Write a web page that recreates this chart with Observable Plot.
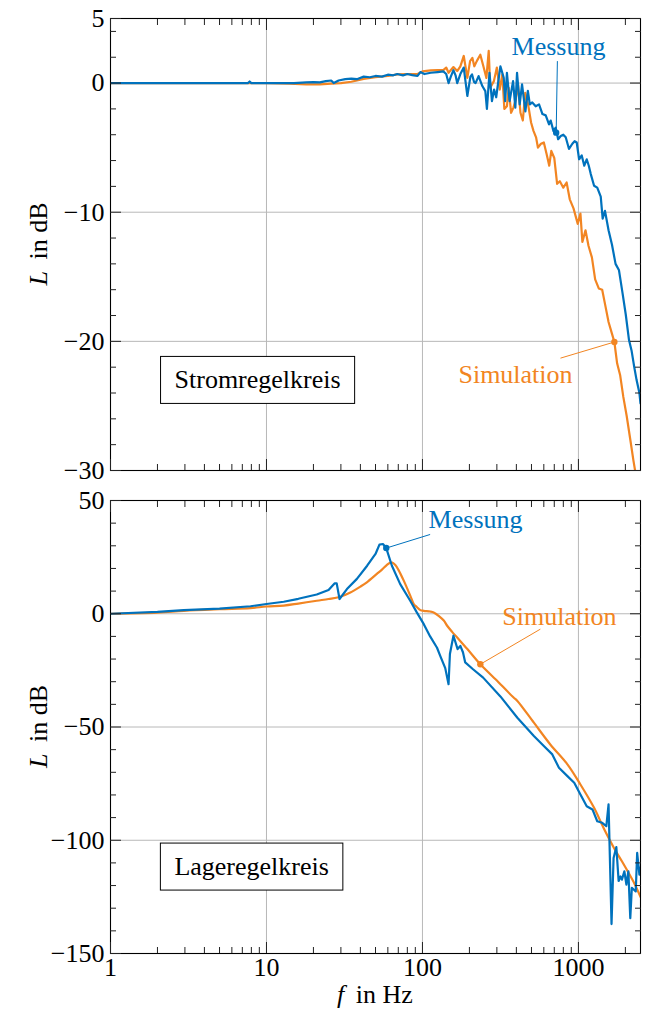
<!DOCTYPE html>
<html><head><meta charset="utf-8">
<script src="https://cdn.jsdelivr.net/npm/d3@7"></script>
<script src="https://cdn.jsdelivr.net/npm/@observablehq/plot@0.6"></script>
<style>
body{margin:0;background:#fff;}
#chart{width:649px;}
#chart svg{display:block;}
</style></head><body><div id="chart"></div>
<script>
const BLUE = "#0072bd", ORANGE = "#f28522";
const FONT = "Liberation Serif, Times New Roman, serif";

// ---------- Stromregelkreis (top) ----------
const topMessF = [1,5,7.6,7.8,8,15,18,20,22,24,26,27,29,32,35,38,42,46,50,55,60,65,69,75,80,86,93,97,103,113,125,136,142,147,152,158,163,167,175,184,194,203,208,214,219,229,242,253,259,269,279,288,297,307,316,332,339,348,362,381,394,404,420,435,457,474,488,506,532,559,588,617,648,664,691,715,741,770,800,829,870,914,945,975,1010,1050,1090,1130,1165,1200,1260,1320,1390,1430,1480,1560,1640,1730,1820,1920,2010,2110,2190,2280,2360,2460,2500];
const topMessL = [0,0,0,0.12,0,0,0.05,0.08,0.05,0.15,0.2,0,0.2,0.3,0.35,0.3,0.5,0.45,0.55,0.5,0.65,0.6,0.7,0.6,0.7,0.62,0.55,0.85,0.7,0.8,0.85,0.9,0.7,0,0.5,1.0,0.6,0,0.7,1.2,-1.0,0.5,0.67,0.1,0,0.54,-0.23,-0.62,-2.0,0.8,-1.4,-0.5,-1.1,0.2,1.3,0.4,-1.4,0.8,-1.4,0.15,-1.9,0.8,-1.65,-0.1,-2.2,-0.6,-1.65,-1.5,-1.8,-1.65,-2.4,-2.5,-3.2,-2.9,-3.7,-3.45,-4.35,-4.1,-4.0,-4.2,-5.1,-4.7,-4.5,-4.6,-5.9,-5.6,-6.4,-5.9,-6.4,-7.05,-7.95,-8.1,-8.8,-10.5,-9.9,-11.4,-12.5,-14,-14.5,-16.3,-17.9,-19.9,-20.7,-22,-23,-24,-24.8];
const topSimF = [1,10,14,18,22,26,30,35,42,50,60,69,80,93,100,113,125,136,142,147,158,167,175,184,194,202,209,215,223,235,247,257,266,272,287,300,313,325,335,348,357,370,383,397,410,425,440,456,478,497,515,535,550,575,600,625,650,670,700,730,760,800,840,880,930,990,1030,1060,1110,1160,1220,1280,1350,1420,1480,1560,1640,1700,1770,1850,1940,2040,2150,2250,2330,2400];
const topSimL = [0,0,-0.05,-0.1,-0.1,-0.05,0,0.1,0.33,0.45,0.55,0.67,0.7,0.7,0.9,0.98,1.0,1.0,1.2,0.8,1.24,0.93,1.3,2.1,0.4,1.7,1.95,1.3,1.7,2.2,1.2,0.4,2.5,-0.36,0.15,1.2,-0.5,0.67,-2.0,-1.8,-0.36,-2.3,-1.9,-1.26,-0.1,-2.3,-2.9,-0.75,-1.8,-3.05,-3.7,-4.2,-5.0,-4.7,-4.6,-5.5,-6.4,-5.25,-5.8,-7.8,-7.6,-8.1,-7.7,-9.0,-9.7,-10.9,-10.1,-12.3,-11.4,-12.6,-13.5,-15.2,-15.9,-16,-17.1,-18.5,-19.4,-20.05,-21.7,-22.6,-24.3,-25.8,-27.6,-29.2,-30.3,-31.5];

// ---------- Lageregelkreis (bottom) ----------
const botMessF = [1,2,2.95,5,7.9,10,12.9,16,21,25,27.3,28.2,29.4,32.8,38,44.2,50,53,55.8,58.6,63.7,72,83.5,92,102,112,124,130,140,147,150,158,168,175,182,188,211,245,316,406,518,600,680,750,850,940,1030,1130,1230,1320,1420,1510,1560,1630,1680,1750,1810,1860,1900,1970,2030,2090,2150,2200,2330,2380,2460,2500];
const botMessL = [0,0.8,1.6,2.3,3.3,4.3,5.3,6.6,8.5,10.5,13.4,13.4,6.5,10.9,15.4,21.2,26.4,30.5,30.8,29,21.2,13.1,5.75,0.6,-4.6,-10,-15,-18.6,-24,-31.1,-17.8,-9.7,-15.6,-14.2,-17.1,-21.5,-24.5,-28.2,-36.5,-45.9,-54,-58.4,-62.1,-68,-71.7,-74.6,-79.8,-85,-86.4,-91.6,-92.3,-93.8,-84.2,-137,-107.8,-103,-118,-116,-117.4,-113.7,-119.6,-113.7,-134.4,-121,-122.6,-105.6,-115.2,-112];
const botSimF = [1,2,2.95,5,7.9,10,12.9,16,21,25,29.4,34.5,40,44,51,55,59,62,64,67,70,76,83.5,88,92,97,102,112,118,127,137,144,155,167,194,235,301,316,384,406,518,660,850,1030,1260,1450,1690,1900,2100,2300,2500];
const botSimL = [0,0.5,1.3,2.0,2.5,3.2,3.6,4.5,5.75,6.5,7.4,9.4,12,13.9,17.6,19.5,21.5,22.5,22.6,21.5,19.5,14.5,8,4.3,3,1.6,1.3,1.0,0.6,-0.9,-3,-5.3,-8,-10.5,-15.6,-22.3,-29.6,-31.1,-37,-38.5,-48.1,-57.7,-66.5,-75.4,-85.7,-94.6,-103.4,-109.3,-114.5,-119.5,-125];

// ---------- ticks ----------
const xMajor = [1,10,100,1000];
const xMinor = [2,3,4,5,6,7,8,9,20,30,40,50,60,70,80,90,200,300,400,500,600,700,800,900,2000];
const topYLabels = [5,0,-10,-20,-30];
const topYGrid = [0,-10,-20];
const topYMinor = [4,2,-2,-4,-6,-8,-12,-14,-16,-18,-22,-24,-26,-28];
const botYLabels = [50,0,-50,-100,-150];
const botYGrid = [0,-50,-100];
const botYMinor = [40,30,20,10,-10,-20,-30,-40,-60,-70,-80,-90,-110,-120,-130,-140];

// ---------- annotations ----------
const topAnnot = [
  {label: "Messung", color: BLUE, tf: 745, tl: 2.8, lf: 733, ll: 1.7, pf: 720, pl: -3.84},
  {label: "Simulation", color: ORANGE, tf: 395, tl: -22.55, lf: 767, ll: -21.3, pf: 1700, pl: -20.05}
];
const botAnnot = [
  {label: "Messung", color: BLUE, tf: 219, tl: 41.6, lf: 112, ll: 35, pf: 58.6, pl: 29},
  {label: "Simulation", color: ORANGE, tf: 755, tl: -1.3, lf: 570, ll: -6.8, pf: 235, pl: -22.3}
];
const topBox = [{label: "Stromregelkreis", f: 8.77, l: -23.0}];
const botBox = [{label: "Lageregelkreis", f: 8.03, l: -111.7}];

const minus = d => d < 0 ? "\u2212" + Math.abs(d) : String(d);
const toRows = (F, L) => F.map((f, i) => ({f, l: L[i]}));

function panel({height, marginTop, marginBottom, yDomain, yLabels, yGrid, yMinor, mess, sim, annot, box, xLabels, smoothSim}) {
  const tickStroke = "#222";
  const lineMess = Plot.line(mess, {x: "f", y: "l", stroke: BLUE, strokeWidth: 2.2, clip: true, strokeLinejoin: "round"});
  const lineSim = Plot.line(sim, {x: "f", y: "l", stroke: ORANGE, strokeWidth: 2.2, clip: true, strokeLinejoin: "round", curve: smoothSim ? "catmull-rom" : "linear"});
  const marks = [
    Plot.gridX({ticks: xMajor, stroke: "#b8b8b8", strokeOpacity: 1, strokeWidth: 1}),
    Plot.gridY({ticks: yGrid, stroke: "#b8b8b8", strokeOpacity: 1, strokeWidth: 1}),
    lineSim, lineMess,
    Plot.link(annot, {x1: "pf", y1: "pl", x2: "lf", y2: "ll", stroke: "color", strokeWidth: 1}),
    Plot.dot(annot, {x: "pf", y: "pl", fill: "color", r: 3.2}),
    Plot.text(annot, {x: "tf", y: "tl", text: "label", fill: "color", fontSize: 26, fontFamily: FONT}),
    Plot.text(box, {x: "f", y: "l", text: "label", fill: "#000", fontSize: 26, fontFamily: FONT}),
    Plot.frame({stroke: "#000", strokeWidth: 1.1}),
    Plot.axisX({ticks: xMajor, anchor: "bottom", tickSize: -11, tickFormat: () => "", label: null, stroke: tickStroke}),
    Plot.axisX({ticks: xMinor, anchor: "bottom", tickSize: -6, tickFormat: () => "", label: null, stroke: tickStroke}),
    Plot.axisX({ticks: xMajor, anchor: "top", tickSize: -11, tickFormat: () => "", label: null, stroke: tickStroke}),
    Plot.axisX({ticks: xMinor, anchor: "top", tickSize: -6, tickFormat: () => "", label: null, stroke: tickStroke}),
    Plot.axisY({ticks: yLabels, anchor: "left", tickSize: -11, tickFormat: () => "", label: null, stroke: tickStroke}),
    Plot.axisY({ticks: yMinor, anchor: "left", tickSize: -6, tickFormat: () => "", label: null, stroke: tickStroke}),
    Plot.axisY({ticks: yLabels, anchor: "right", tickSize: -11, tickFormat: () => "", label: null, stroke: tickStroke}),
    Plot.axisY({ticks: yMinor, anchor: "right", tickSize: -6, tickFormat: () => "", label: null, stroke: tickStroke}),
    Plot.axisY({ticks: yLabels, anchor: "left", tickSize: 0, tickPadding: 6, tickFormat: minus, label: null, fontSize: 26, fontFamily: FONT})
  ];
  if (xLabels) {
    marks.push(Plot.axisX({ticks: xMajor, anchor: "bottom", tickSize: 0, tickPadding: 4, tickFormat: d => String(d), label: null, fontSize: 26, fontFamily: FONT}));
  }
  return Plot.plot({
    width: 649, height, marginTop, marginBottom, marginLeft: 110, marginRight: 9,
    style: {fontFamily: FONT, fontSize: "26px", background: "#fff", color: "#000", overflow: "visible"},
    x: {type: "log", domain: [1, 2500]},
    y: {domain: yDomain},
    marks
  });
}

function boxAround(svg, label) {
  for (const t of svg.querySelectorAll("text")) {
    if (t.textContent === label) {
      const b = t.getBBox();
      const r = document.createElementNS("http://www.w3.org/2000/svg", "rect");
      r.setAttribute("x", b.x - 14);
      r.setAttribute("y", b.y - 9);
      r.setAttribute("width", b.width + 28);
      r.setAttribute("height", b.height + 18);
      r.setAttribute("fill", "#fff");
      r.setAttribute("stroke", "#000");
      r.setAttribute("stroke-width", "1");
      if (t.getAttribute("transform")) r.setAttribute("transform", t.getAttribute("transform"));
      t.parentNode.insertBefore(r, t);
    }
  }
}

function addLabel(svg, x, y, rotate, italic, rest) {
  const s = d3.select(svg).append("text")
    .attr("transform", `translate(${x},${y})` + (rotate ? " rotate(-90)" : ""))
    .attr("text-anchor", "middle")
    .attr("font-family", FONT).attr("font-size", 26).attr("fill", "#000");
  s.append("tspan").attr("font-style", "italic").text(italic);
  s.append("tspan").attr("dx", 5).text(rest);
}

const chartEl = document.getElementById("chart");
const topPanel = panel({height: 480, marginTop: 18, marginBottom: 10, yDomain: [-30, 5], yLabels: topYLabels, yGrid: topYGrid, yMinor: topYMinor,
  mess: toRows(topMessF, topMessL), sim: toRows(topSimF, topSimL), annot: topAnnot, box: topBox, xLabels: false, smoothSim: false});
const botPanel = panel({height: 532, marginTop: 20, marginBottom: 59, yDomain: [-150, 50], yLabels: botYLabels, yGrid: botYGrid, yMinor: botYMinor,
  mess: toRows(botMessF, botMessL), sim: toRows(botSimF, botSimL), annot: botAnnot, box: botBox, xLabels: true, smoothSim: true});
chartEl.appendChild(topPanel);
chartEl.appendChild(botPanel);
boxAround(topPanel, topBox[0].label);
boxAround(botPanel, botBox[0].label);
addLabel(topPanel, 47, 244, true, "L", " in dB");
addLabel(botPanel, 47, 246.5, true, "L", " in dB");
addLabel(botPanel, 375, 523, false, "f", " in Hz");
</script></body></html>
